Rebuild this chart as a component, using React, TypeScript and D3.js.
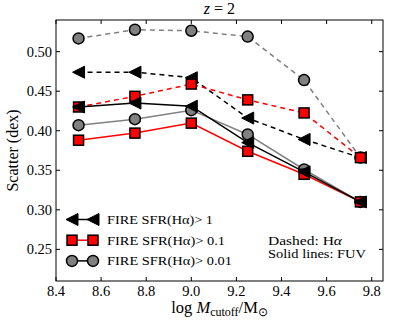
import React from "react";
import * as d3 from "d3";

const W = 399;
const H = 332;

const mcut = [8.5, 8.75, 9.0, 9.25, 9.5, 9.75];

// dashed: H-alpha
const haGt1 = [0.474, 0.474, 0.467, 0.416, 0.389, 0.366];
const haGt01 = [0.43, 0.4435, 0.459, 0.439, 0.4225, 0.366];
const haGt001 = [0.5167, 0.5277, 0.5264, 0.519, 0.464, 0.366];

// solid: FUV
const fuvGt1 = [0.43, 0.435, 0.431, 0.385, 0.348, 0.31];
const fuvGt01 = [0.388, 0.397, 0.4096, 0.374, 0.345, 0.31];
const fuvGt001 = [0.407, 0.4146, 0.426, 0.3953, 0.351, 0.31];

const xTicks = [8.4, 8.6, 8.8, 9.0, 9.2, 9.4, 9.6, 9.8];
const yTicks = [0.25, 0.3, 0.35, 0.4, 0.45, 0.5];

const legendLabels = ["FIRE SFR(H\u03b1)> 1", "FIRE SFR(H\u03b1)> 0.1", "FIRE SFR(H\u03b1)> 0.01"];
const legendWidths = [106, 118, 125];

const m = { left: 56, right: 16, top: 20, bottom: 51 };
const FONT = "Liberation Serif";

type Kind = "tri" | "sq" | "circ";

const Marker = ({ kind, x, y, fill }: { kind: Kind; x: number; y: number; fill: string }) => {
  if (kind === "tri") {
    const s = 6;
    return (
      <path
        d={`M${x - s},${y} L${x + s},${y - s} L${x + s},${y + s} Z`}
        fill={fill}
        stroke="#000"
        strokeWidth={1}
      />
    );
  }
  if (kind === "sq") {
    return <rect x={x - 5} y={y - 5} width={10} height={10} fill={fill} stroke="#000" strokeWidth={1.5} />;
  }
  return <circle cx={x} cy={y} r={5.5} fill={fill} stroke="#000" strokeWidth={1.5} />;
};

export default function App() {
  const x = d3.scaleLinear().domain([8.4, 9.85]).range([m.left, W - m.right]);
  const y = d3.scaleLinear().domain([0.21, 0.54]).range([H - m.bottom, m.top]);
  const line = d3
    .line<number>()
    .x((_, i) => x(mcut[i]))
    .y((d) => y(d));

  const series = [
    { vals: haGt001, color: "#808080", kind: "circ" as Kind, fill: "#808080", dash: "5,4" },
    { vals: haGt1, color: "#000", kind: "tri" as Kind, fill: "#000", dash: "5,4" },
    { vals: haGt01, color: "#ff0000", kind: "sq" as Kind, fill: "#ff0000", dash: "5,4" },
    { vals: fuvGt001, color: "#808080", kind: "circ" as Kind, fill: "#808080", dash: "" },
    { vals: fuvGt01, color: "#ff0000", kind: "sq" as Kind, fill: "#ff0000", dash: "" },
    { vals: fuvGt1, color: "#000", kind: "tri" as Kind, fill: "#000", dash: "" },
  ];

  const x0 = m.left;
  const x1 = W - m.right;
  const y0 = H - m.bottom;
  const y1 = m.top;

  const legend = [
    { kind: "tri" as Kind, color: "#000", fill: "#000" },
    { kind: "sq" as Kind, color: "#ff0000", fill: "#ff0000" },
    { kind: "circ" as Kind, color: "#000", fill: "#808080" },
  ];

  return (
    <svg width={W} height={H} style={{ position: "absolute", left: 0, top: 0, fontFamily: FONT }}>
      <rect width={W} height={H} fill="#fff" />
      <text x={(x0 + x1) / 2} y={14} textAnchor="middle" fontSize={16}>
        <tspan fontStyle="italic">z</tspan> = 2
      </text>

      {series.map((s, i) => (
        <g key={i}>
          <path d={line(s.vals) || ""} fill="none" stroke={s.color} strokeWidth={1.5} strokeDasharray={s.dash} />
          {s.vals.map((v, j) => (
            <Marker key={j} kind={s.kind} x={x(mcut[j])} y={y(v)} fill={s.fill} />
          ))}
        </g>
      ))}

      {/* frame and ticks */}
      <rect x={x0} y={y1} width={x1 - x0} height={y0 - y1} fill="none" stroke="#000" strokeWidth={1} />
      {xTicks.map((t) => (
        <g key={t}>
          <line x1={x(t)} x2={x(t)} y1={y0} y2={y0 - 4} stroke="#000" />
          <line x1={x(t)} x2={x(t)} y1={y1} y2={y1 + 4} stroke="#000" />
          <text x={x(t)} y={y0 + 15} textAnchor="middle" fontSize={14.5}>
            {t.toFixed(1)}
          </text>
        </g>
      ))}
      {yTicks.map((t) => (
        <g key={t}>
          <line x1={x0} x2={x0 + 4} y1={y(t)} y2={y(t)} stroke="#000" />
          <line x1={x1} x2={x1 - 4} y1={y(t)} y2={y(t)} stroke="#000" />
          <text x={x0 - 4} y={y(t) + 5} textAnchor="end" fontSize={14.5}>
            {t.toFixed(2)}
          </text>
        </g>
      ))}

      <text x={(x0 + x1) / 2} y={313} textAnchor="middle" fontSize={16.5}>
        log <tspan fontStyle="italic">M</tspan>
        <tspan fontSize={12} dy={3}>cutoff</tspan>
        <tspan dy={-3}>/M</tspan>
        <tspan fontSize={12} dy={3}>{"\u2299"}</tspan>
      </text>
      <text
        transform={`translate(18,${(y0 + y1) / 2}) rotate(-90)`}
        textAnchor="middle"
        fontSize={16}
      >
        Scatter (dex)
      </text>

      {legend.map((l, i) => {
        const ly = 219.5 + i * 20.7;
        return (
          <g key={i}>
            <line x1={72} x2={93} y1={ly} y2={ly} stroke={l.color} strokeWidth={1.5} />
            <Marker kind={l.kind} x={72} y={ly} fill={l.fill} />
            <Marker kind={l.kind} x={93} y={ly} fill={l.fill} />
            <text x={107} y={ly + 4.5} fontSize={13.5} textLength={legendWidths[i]} lengthAdjust="spacingAndGlyphs">
              {legendLabels[i]}
            </text>
          </g>
        );
      })}

      <text x={268} y={245} fontSize={12} textLength={74} lengthAdjust="spacingAndGlyphs">
        Dashed: H<tspan fontStyle="italic">{"\u03b1"}</tspan>
      </text>
      <text x={268} y={257.5} fontSize={12} textLength={98} lengthAdjust="spacingAndGlyphs">
        Solid lines: FUV
      </text>
    </svg>
  );
}
